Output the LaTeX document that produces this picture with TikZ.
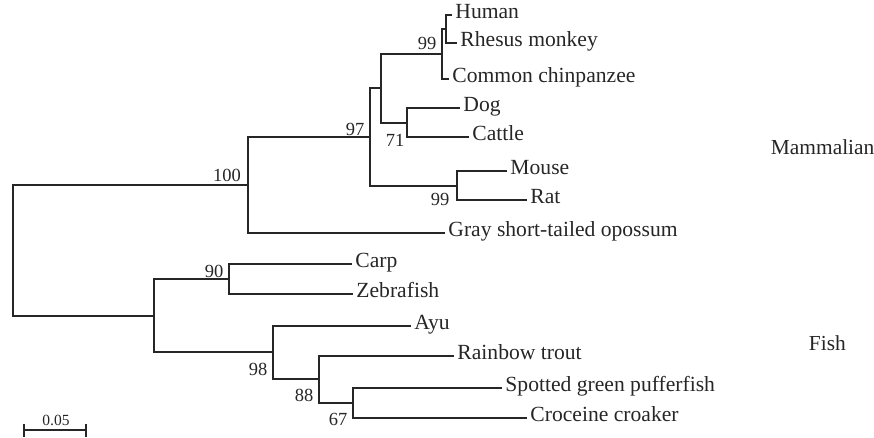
\documentclass[tikz,border=0pt]{standalone}
\usepackage{fontspec}
\setmainfont{Liberation Serif}
\usetikzlibrary{arrows.meta}
\begin{document}
\begin{tikzpicture}[x=1pt,y=-1pt,line width=1.9pt,draw=black!85,
  tip/.style={anchor=west,inner sep=2.5pt,text=black!85,font=\fontsize{21.6}{24}\selectfont,text height=0.8em,text depth=0.15em},
  boot/.style={inner sep=0pt,text=black!85,font=\fontsize{18.5}{20}\selectfont},
  clade/.style={anchor=west,inner sep=0pt,text=black!85,font=\fontsize{21.4}{24}\selectfont}]
\useasboundingbox (0,0) rectangle (874,438);
% internal nodes
\coordinate (root) at (13,250);
\coordinate (n100) at (248,185);
\coordinate (n97) at (370,137);
\coordinate (nPC) at (381,88);
\coordinate (nPri) at (442,54);
\coordinate (nHR) at (446,29);
\coordinate (nDC) at (407,123);
\coordinate (nMR) at (457,186);
\coordinate (nFish) at (154,316);
\coordinate (nCZ) at (229,279);
\coordinate (nAyu) at (273,352);
\coordinate (n88) at (319,379);
\coordinate (n67) at (353,403);
% leaves
\foreach \nm/\x/\y/\txt in {human/452/15/Human, rhesus/457/43/Rhesus monkey,
  chimp/449/79/Common chinpanzee, dog/460/108/Dog, cattle/469/137/Cattle,
  mouse/507/171/Mouse, rat/527/200/Rat, opossum/445/233/Gray short-tailed opossum,
  carp/352/264/Carp, zebra/353/294/Zebrafish, ayu/411/326/Ayu,
  trout/454/356/Rainbow trout, puffer/502/388/Spotted green pufferfish,
  croaker/527/418/Croceine croaker}
  {\node[tip] (\nm) at (\x,\y) {\txt};}
% branches
\foreach \a/\b in {root/n100, root/nFish, n100/n97, n100/opossum, n97/nPC, n97/nMR,
  nPC/nPri, nPC/nDC, nPri/nHR, nPri/chimp, nHR/human, nHR/rhesus, nDC/dog, nDC/cattle,
  nMR/mouse, nMR/rat, nFish/nCZ, nFish/nAyu, nCZ/carp, nCZ/zebra, nAyu/ayu, nAyu/n88,
  n88/trout, n88/n67, n67/puffer, n67/croaker}
  {\draw (\a) |- (\b);}
% bootstrap values
\node[boot] (b100) at (227,175) {100};
\node[boot] (b97) at (355,129) {97};
\node[boot] (b99a) at (427,43) {99};
\node[boot] (b71) at (395,140) {71};
\node[boot] (b99b) at (440,199) {99};
\node[boot] (b90) at (214,271) {90};
\node[boot] (b98) at (258,369) {98};
\node[boot] (b88) at (304,395) {88};
\node[boot] (b67) at (338,419) {67};
% groups
\node[clade] (mammal) at (770,147) {Mammalian};
\node[clade] (fish) at (808,343) {Fish};
% scale bar
\coordinate (sb0) at (23,430);
\coordinate (sb1) at (87,430);
\draw[{Bar[width=13pt]}-{Bar[width=13pt]},line width=1.6pt] (sb0) -- (sb1);
\node[boot,font=\fontsize{15.5}{17}\selectfont] (sblabel) at (56,420) {0.05};
\end{tikzpicture}
\end{document}
